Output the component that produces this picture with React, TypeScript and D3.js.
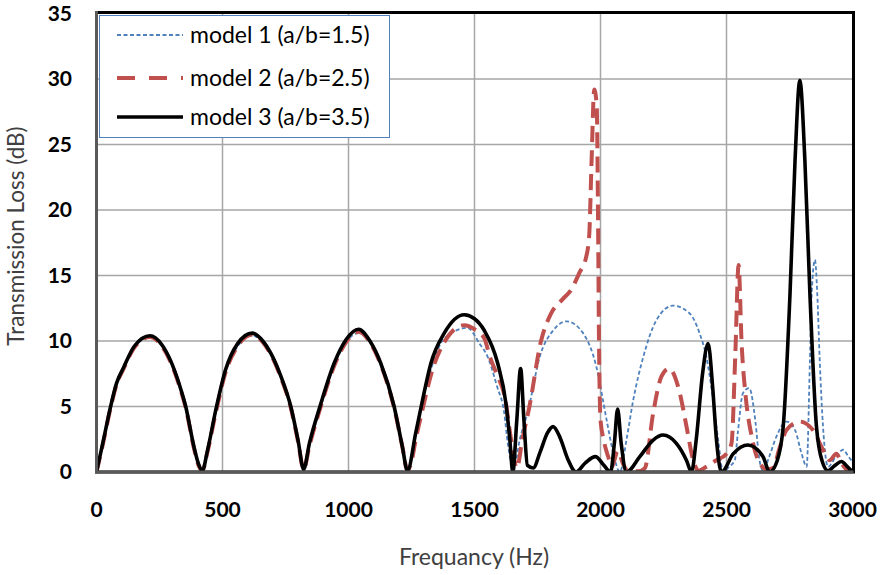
import { useEffect, useRef } from "react";
import * as d3 from "d3";

// model 1 (a/b=1.5)
const m1Freq = [0, 25, 56, 80, 108, 150, 212, 260, 294, 330, 354, 387, 405, 420, 440, 473, 512, 560, 618, 660, 691, 730, 771, 800, 822, 845, 890, 943, 990, 1040, 1085, 1128, 1181, 1214, 1234, 1267, 1294, 1330, 1380, 1472, 1520, 1552, 1590, 1618, 1632, 1655, 1680, 1713, 1759, 1812, 1865, 1931, 1984, 2024, 2050, 2077, 2103, 2130, 2170, 2222, 2288, 2354, 2393, 2420, 2447, 2467, 2487, 2510, 2533, 2545, 2565, 2590, 2615, 2630, 2645, 2670, 2698, 2738, 2772, 2798, 2818, 2831, 2838, 2851, 2860, 2870, 2883, 2903, 2935, 2963, 2983, 3000];
const m1TL = [0, 2.1, 4.9, 6.7, 7.9, 9.5, 10.3, 9.6, 8.4, 6.5, 4.9, 1.8, 0.5, 0.1, 1.5, 4.5, 7.6, 9.6, 10.4, 9.9, 9.0, 7.3, 4.9, 2.3, 0.2, 2.0, 5.0, 8.1, 9.9, 10.6, 9.9, 8.2, 4.9, 1.9, 0.1, 3.0, 5.5, 8.0, 10.2, 11.0, 9.8, 8.8, 6.5, 4.5, 2.2, 0.2, 2.5, 4.7, 8.8, 10.8, 11.5, 10.6, 8.0, 4.0, 1.5, 0, 2.44, 5.5, 8.8, 11.6, 12.7, 12.1, 10.6, 8.8, 5.5, 2.44, 0, 0.4, 0.9, 3.0, 6.0, 6.4, 3.8, 1.0, 0.1, 1.2, 2.7, 3.85, 3.2, 1.4, 0.4, 8.5, 13.6, 16.2, 13.7, 8.5, 3.46, 0.4, 1.2, 1.7, 1.2, 0.8];

// model 2 (a/b=2.5)
const m2Freq = [0, 25, 56, 80, 108, 150, 212, 260, 294, 330, 354, 387, 405, 420, 440, 473, 512, 560, 618, 660, 691, 730, 771, 800, 822, 845, 890, 943, 990, 1040, 1085, 1128, 1181, 1214, 1234, 1250, 1267, 1294, 1330, 1380, 1459, 1500, 1539, 1561, 1590, 1620, 1645, 1668, 1690, 1718, 1764, 1804, 1850, 1883, 1916, 1943, 1955, 1965, 1975, 1985, 1990, 1994, 2000, 2012, 2030, 2045, 2068, 2090, 2110, 2150, 2176, 2209, 2242, 2272, 2315, 2341, 2368, 2390, 2420, 2460, 2500, 2520, 2535, 2548, 2560, 2575, 2600, 2626, 2660, 2685, 2710, 2738, 2791, 2843, 2883, 2910, 2936, 2956, 2976, 3000];
const m2TL = [0, 2.1, 4.9, 6.7, 7.9, 9.5, 10.3, 9.6, 8.4, 6.5, 4.9, 1.8, 0.5, 0.1, 1.5, 4.5, 7.6, 9.6, 10.5, 9.9, 9.0, 7.3, 4.9, 2.3, 0.2, 2.0, 5.0, 8.1, 9.9, 10.7, 9.9, 8.2, 4.9, 1.9, 0.1, 0.8, 2.5, 4.8, 7.6, 9.9, 11.2, 10.9, 10.2, 8.8, 7.4, 5.75, 2.5, 0.3, 2.5, 5.0, 10.0, 12.1, 13.2, 13.9, 15.2, 16.4, 18.0, 24.0, 29.2, 28.0, 20.0, 10.0, 4.0, 2.5, 1.2, 0.4, 1.6, 0.6, 0.05, 0.05, 0.3, 4.5, 7.3, 7.9, 6.0, 3.5, 0.9, 0.1, 0.4, 0.9, 1.4, 2.2, 9.0, 15.8, 9.8, 6.0, 2.7, 0.9, 0.2, 0.3, 1.8, 3.2, 3.85, 3.2, 1.7, 0.9, 1.4, 0.7, 0.2, 0.1];

// model 3 (a/b=3.5)
const m3Freq = [0, 25, 56, 80, 108, 150, 212, 260, 294, 330, 354, 387, 405, 420, 440, 473, 512, 560, 618, 660, 691, 730, 771, 800, 822, 845, 890, 943, 990, 1040, 1085, 1128, 1181, 1214, 1234, 1267, 1294, 1327, 1380, 1459, 1500, 1539, 1592, 1625, 1640, 1652, 1668, 1683, 1696, 1710, 1733, 1760, 1790, 1812, 1840, 1870, 1903, 1940, 1980, 2010, 2040, 2055, 2068, 2082, 2103, 2156, 2209, 2248, 2301, 2341, 2361, 2380, 2405, 2427, 2445, 2460, 2480, 2527, 2585, 2645, 2671, 2700, 2725, 2752, 2772, 2791, 2811, 2831, 2857, 2880, 2903, 2930, 2956, 2980, 3000];
const m3TL = [0, 2.2, 5.0, 6.8, 8.0, 9.6, 10.4, 9.7, 8.5, 6.6, 5.0, 1.9, 0.6, 0.1, 1.6, 4.7, 7.8, 9.8, 10.6, 10.0, 9.1, 7.4, 5.0, 2.4, 0.2, 2.2, 5.2, 8.3, 10.1, 10.9, 10.0, 8.3, 5.0, 1.9, 0.1, 3.0, 5.5, 8.3, 10.6, 12.0, 11.7, 10.8, 8.3, 5.2, 2.5, 0, 4.0, 7.9, 4.0, 0.5, 0.3, 1.5, 3.0, 3.46, 2.6, 1.0, 0, 0.7, 1.17, 0.6, 0, 2.2, 4.8, 2.2, 0, 1.17, 2.44, 2.82, 2.19, 0.9, 0, 2.5, 7.5, 9.8, 6.5, 2.5, 0, 1.4, 2.06, 1.17, 0, 0.8, 3.46, 13.6, 23.8, 29.9, 23.8, 13.6, 3.46, 0.8, 0.1, 0.5, 0.8, 0.4, 0];

const xTicks = [0, 500, 1000, 1500, 2000, 2500, 3000];
const yTicks = [0, 5, 10, 15, 20, 25, 30, 35];

const seriesList = [
  { label: "model 1 (a/b=1.5)", freq: m1Freq, tl: m1TL, color: "#4F81BD", width: 1.8, dash: "4 2.5", legendDash: "4 2.5" },
  { label: "model 2 (a/b=2.5)", freq: m2Freq, tl: m2TL, color: "#C0504D", width: 4, dash: "16 8", legendDash: "18 14" },
  { label: "model 3 (a/b=3.5)", freq: m3Freq, tl: m3TL, color: "#000000", width: 3.6, dash: null, legendDash: null },
];

const W = 882;
const H = 575;
const FONT = "Lato, 'Open Sans', sans-serif";

export default function App() {
  const svgRef = useRef<SVGSVGElement | null>(null);

  useEffect(() => {
    const svgEl = svgRef.current;
    if (!svgEl) return;
    const svg = d3.select(svgEl);
    svg.selectAll("*").remove();

    const left = 96.5, right = 852.5, top = 13.5, bottom = 472;
    const x = d3.scaleLinear().domain([0, 3000]).range([left, right]);
    const y = d3.scaleLinear().domain([0, 35]).range([bottom, top]);

    svg.append("rect").attr("width", W).attr("height", H).attr("fill", "#fff");

    // grid
    const grid = svg.append("g").attr("stroke", "#a6a6a6").attr("stroke-width", 1.5);
    xTicks.slice(1, -1).forEach((t) => {
      grid.append("line").attr("x1", x(t)).attr("x2", x(t)).attr("y1", top).attr("y2", bottom);
    });
    yTicks.slice(1, -1).forEach((t) => {
      grid.append("line").attr("x1", left).attr("x2", right).attr("y1", y(t)).attr("y2", y(t));
    });

    // curves
    const clip = svg.append("clipPath").attr("id", "plotclip");
    clip.append("rect").attr("x", left).attr("y", top - 2).attr("width", right - left).attr("height", bottom - top + 2);

    const plot = svg.append("g").attr("clip-path", "url(#plotclip)");
    seriesList.forEach((s) => {
      const pts = s.freq.map((f, i) => [f, s.tl[i]] as [number, number]);
      const line = d3
        .line<[number, number]>()
        .x((d) => x(d[0]))
        .y((d) => y(d[1]))
        .curve(d3.curveMonotoneX);
      plot
        .append("path")
        .datum(pts)
        .attr("fill", "none")
        .attr("stroke", s.color)
        .attr("stroke-width", s.width)
        .attr("stroke-linejoin", "round")
        .attr("stroke-dasharray", s.dash)
        .attr("d", line);
    });

    // frame
    svg.append("rect")
      .attr("x", left).attr("y", top - 1)
      .attr("width", right - left + 1).attr("height", bottom - top + 1)
      .attr("fill", "none").attr("stroke", "#000").attr("stroke-width", 3);
    svg.append("line").attr("x1", left).attr("x2", left).attr("y1", top - 2.5).attr("y2", bottom + 1.5)
      .attr("stroke", "#595959").attr("stroke-width", 3);
    svg.append("line").attr("x1", left).attr("x2", right + 1).attr("y1", bottom).attr("y2", bottom)
      .attr("stroke", "#595959").attr("stroke-width", 3);

    // tick labels
    const tickG = svg.append("g").attr("font-family", FONT).attr("font-weight", "bold").attr("font-size", 21).attr("fill", "#000");
    yTicks.forEach((t) => {
      tickG.append("text").attr("x", 72).attr("y", y(t)).attr("dy", "0.35em").attr("text-anchor", "end").text(t);
    });
    xTicks.forEach((t) => {
      tickG.append("text").attr("x", x(t)).attr("y", 510).attr("dy", "0.35em").attr("text-anchor", "middle").text(t);
    });

    // axis titles
    svg.append("text")
      .attr("transform", `translate(16,236) rotate(-90)`)
      .attr("text-anchor", "middle").attr("dy", "0.35em")
      .attr("font-family", FONT).attr("font-size", 22.5).attr("fill", "#404040")
      .text("Transmission Loss (dB)");
    svg.append("text")
      .attr("x", 474).attr("y", 557).attr("dy", "0.35em")
      .attr("text-anchor", "middle")
      .attr("font-family", FONT).attr("font-size", 23).attr("fill", "#404040")
      .text("Frequancy (Hz)");

    // legend
    const lg = svg.append("g");
    lg.append("rect").attr("x", 99.5).attr("y", 15.5).attr("width", 290).attr("height", 122)
      .attr("fill", "#fff").attr("stroke", "#4F81BD").attr("stroke-width", 1);
    const rowsY = [35, 78, 117];
    seriesList.forEach((s, i) => {
      lg.append("line").attr("x1", 117).attr("x2", 183).attr("y1", rowsY[i]).attr("y2", rowsY[i])
        .attr("stroke", s.color).attr("stroke-width", s.width)
        .attr("stroke-dasharray", s.legendDash);
      lg.append("text").attr("x", 190).attr("y", rowsY[i]).attr("dy", "0.35em")
        .attr("font-family", FONT).attr("font-size", 23).attr("fill", "#000")
        .text(s.label);
    });
  }, []);

  return (
    <svg
      ref={svgRef}
      width={W}
      height={H}
      style={{ position: "absolute", left: 0, top: 0, display: "block" }}
    />
  );
}
